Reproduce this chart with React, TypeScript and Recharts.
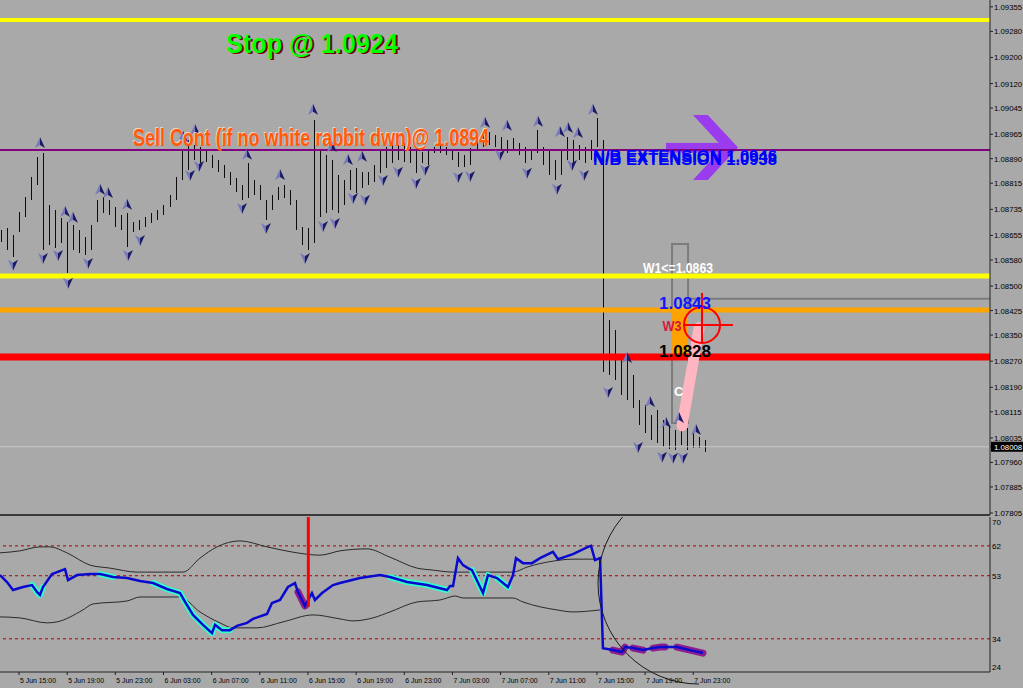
import React from 'react';
import {
  ComposedChart, Bar, Line, Scatter, XAxis, YAxis,
  ReferenceLine, ReferenceArea, ReferenceDot,
} from 'recharts';

// ---------- axes ----------
const X_MIN = 13.42; // hours since 5 Jun 00:00
const X_MAX = 95.65;
const P_MAX = 1.09376;
const P_MIN = 1.07799;
const CURRENT_PRICE = 1.08008;

const priceTicks = [1.09355, 1.0928, 1.092, 1.0912, 1.09045, 1.08965, 1.0889, 1.08815, 1.08735, 1.08655,
  1.0858, 1.085, 1.08425, 1.0835, 1.0827, 1.0819, 1.08115, 1.08035, CURRENT_PRICE, 1.0796, 1.07885, 1.07805];

const xTickHours = [15, 19, 23, 27, 31, 35, 39, 43, 47, 51, 55, 59, 63, 67, 71];
const xTickLabels = ['5 Jun 15:00', '5 Jun 19:00', '5 Jun 23:00', '6 Jun 03:00', '6 Jun 07:00', '6 Jun 11:00',
  '6 Jun 15:00', '6 Jun 19:00', '6 Jun 23:00', '7 Jun 03:00', '7 Jun 07:00', '7 Jun 11:00', '7 Jun 15:00',
  '7 Jun 19:00', '7 Jun 23:00'];

const indTicks = [70, 62, 53, 34, 24];

// ---------- price bars (30 min) ----------
const barHigh = [
  1.08672, 1.08678, 1.08657, 1.08727, 1.08773, 1.08834, 1.08896, 1.08908, 1.08749, 1.08733,
  1.08709, 1.08696, 1.08687, 1.08672, 1.08650, 1.08687, 1.08764, 1.08773, 1.08764, 1.08742,
  1.08718, 1.08724, 1.08696, 1.08703, 1.08712, 1.08724, 1.08733, 1.08749, 1.08779, 1.08834,
  1.08917, 1.08948, 1.08938, 1.08926, 1.08917, 1.08902, 1.08886, 1.08871, 1.08850, 1.08831,
  1.08810, 1.08877, 1.08825, 1.08810, 1.08764, 1.08779, 1.08804, 1.08810, 1.08795, 1.08764,
  1.08681, 1.08678, 1.09009, 1.08917, 1.08902, 1.08886, 1.08840, 1.08825, 1.08856, 1.08862,
  1.08850, 1.08850, 1.08871, 1.08917, 1.08926, 1.08938, 1.08932, 1.08938, 1.08926, 1.08917,
  1.08911, 1.08917, 1.08926, 1.08929, 1.08926, 1.08917, 1.08911, 1.08902, 1.08923, 1.08969,
  1.08978, 1.08972, 1.08963, 1.08957, 1.08948, 1.08954, 1.08938, 1.08926, 1.08917, 1.08978,
  1.08926, 1.08917, 1.08886, 1.08917, 1.08957, 1.08948, 1.08932, 1.08926, 1.08948, 1.09015,
  1.08948, 1.08396, 1.08366, 1.08283, 1.08274, 1.08228, 1.08151, 1.08136, 1.08105, 1.08121,
  1.08090, 1.08075, 1.08059, 1.08075, 1.08066, 1.08053, 1.08038, 1.08029,
];
const barLow = [
  1.08635, 1.08611, 1.08589, 1.08666, 1.08712, 1.08764, 1.08810, 1.08611, 1.08626, 1.08617,
  1.08632, 1.08540, 1.08611, 1.08601, 1.08595, 1.08611, 1.08696, 1.08724, 1.08718, 1.08681,
  1.08672, 1.08620, 1.08666, 1.08672, 1.08681, 1.08693, 1.08703, 1.08718, 1.08742, 1.08764,
  1.08825, 1.08856, 1.08886, 1.08877, 1.08880, 1.08862, 1.08850, 1.08831, 1.08810, 1.08788,
  1.08764, 1.08770, 1.08779, 1.08764, 1.08703, 1.08733, 1.08764, 1.08770, 1.08749, 1.08672,
  1.08626, 1.08611, 1.08632, 1.08712, 1.08724, 1.08733, 1.08724, 1.08749, 1.08795, 1.08785,
  1.08801, 1.08810, 1.08819, 1.08847, 1.08862, 1.08877, 1.08886, 1.08880, 1.08877, 1.08847,
  1.08877, 1.08871, 1.08908, 1.08908, 1.08902, 1.08886, 1.08865, 1.08865, 1.08871, 1.08917,
  1.08926, 1.08932, 1.08926, 1.08917, 1.08908, 1.08917, 1.08902, 1.08877, 1.08886, 1.08908,
  1.08871, 1.08840, 1.08825, 1.08840, 1.08886, 1.08877, 1.08886, 1.08877, 1.08886, 1.08926,
  1.08237, 1.08228, 1.08213, 1.08167, 1.08151, 1.08127, 1.08075, 1.08050, 1.08029, 1.08020,
  1.08007, 1.08001, 1.07998, 1.08013, 1.07998, 1.08004, 1.08004, 1.07992,
];
const BAR_START = 13.5;
const BAR_STEP = 0.5;

// ---------- fractals ----------
const upFractalTime = [16.74, 18.82, 19.48, 21.73, 22.39, 23.97, 28.62, 29.62, 33.94, 36.68, 39.42, 40.98, 42.32,
  43.49, 53.70, 55.53, 58.11, 59.93, 60.60, 61.43, 62.67, 65.50, 67.41, 68.74, 69.82, 71.23];
const upFractalPrice = [1.08938, 1.08727, 1.08709, 1.08795, 1.08785, 1.08749, 1.08957, 1.08978, 1.08902, 1.08840,
  1.09040, 1.08926, 1.08886, 1.08896, 1.09000, 1.08991, 1.09003, 1.08972, 1.08984, 1.08969, 1.09040, 1.08280,
  1.08145, 1.08081, 1.08096, 1.08059];
const downFractalTime = [14.50, 16.99, 18.24, 19.07, 20.73, 24.05, 25.05, 29.20, 29.95, 33.52, 35.51, 38.75, 40.25,
  41.24, 42.74, 43.74, 45.23, 46.48, 47.97, 48.72, 51.46, 52.46, 54.95, 57.19, 59.68, 60.93, 61.93, 63.92, 66.41,
  68.41, 69.32, 70.15];
const downFractalPrice = [1.08565, 1.08586, 1.08595, 1.08510, 1.08571, 1.08595, 1.08641, 1.08840, 1.08868, 1.08739,
  1.08678, 1.08586, 1.08684, 1.08693, 1.08770, 1.08764, 1.08825, 1.08850, 1.08816, 1.08856, 1.08834, 1.08837,
  1.08902, 1.08847, 1.08798, 1.08871, 1.08840, 1.08176, 1.08007, 1.07977, 1.07974, 1.07974];

// ---------- horizontal levels ----------
const levelPrices = [1.09315, 1.08917, 1.08531, 1.08427, 1.08283];
const levelColors = ['#FFFF00', '#800080', '#FFFF00', '#FFA500', '#FF0000'];
const levelWidths = [4, 2, 5, 5, 7];

// ---------- drawing objects ----------
const boxTime = [69.24, 70.57];
const boxW1 = [1.08427, 1.08629];
const boxW3 = [1.08280, 1.08427];
const boxC = [1.08081, 1.08280];
const w1Line = { p: 1.08461, from: 70.57, to: 95.65 };
const pinkLeg = { h1: 70.07, p1: 1.08072, h2: 71.48, p2: 1.08372 };
const target = { h: 71.73, p: 1.08381, hFrom: 70.15, hTo: 74.30, pFrom: 1.08326, pTo: 1.08479 };
const arrowBox = { x1: 68.74, x2: 74.72, y1: 1.08825, y2: 1.09024 };

const annotations = [
  { id: 'stop', text: 'Stop @ 1.0924', h: 32.19, p: 1.09214 },
  { id: 'sell', text: 'Sell Cont (if no white rabbit dwn)@ 1.0894', h: 24.47, p: 1.08929 },
  { id: 'nb1', text: 'N/B EXTENSION 1.0946', h: 62.67, p: 1.08880 },
  { id: 'nb2', text: 'N/B EXTENSION 1.0938', h: 62.67, p: 1.08871 },
  { id: 'w1', text: 'W1<=1.0863', h: 66.83, p: 1.08540 },
  { id: 'lvl1', text: '1.0843', h: 68.16, p: 1.08430 },
  { id: 'w3', text: 'W3', h: 68.45, p: 1.08363 },
  { id: 'lvl2', text: '1.0828', h: 68.16, p: 1.08283 },
  { id: 'c', text: 'C', h: 69.40, p: 1.08164 },
];

// ---------- indicator ----------
const rsiTime = [13.42, 14.0, 14.5, 15.33, 16.08, 16.49, 16.74, 16.99, 17.74, 18.82, 19.07, 19.82, 20.9, 21.73,
  22.81, 23.97, 25.05, 26.13, 27.29, 28.37, 28.79, 29.45, 30.28, 31.03, 31.28, 31.86, 32.52, 33.1, 33.94, 34.43,
  35.6, 36.01, 36.68, 37.34, 37.92, 38.17, 38.75, 39.33, 39.58, 40.17, 41.08, 41.66, 43.32, 44.98, 45.81, 47.23,
  48.89, 50.55, 50.8, 51.05, 51.46, 51.88, 52.29, 52.62, 53.54, 53.95, 54.7, 55.61, 56.03, 56.28, 56.86, 57.61,
  58.27, 59.35, 59.77, 61.01, 62.26, 62.51, 62.84, 63.26, 63.5, 64.33, 65.08, 65.33, 66.0, 66.83, 67.66, 68.24,
  68.65, 69.65, 70.73, 71.81];
const rsiValue = [53.2, 51.1, 48.7, 49.6, 50.2, 48.1, 47.2, 49.6, 53.5, 55.0, 51.7, 53.2, 53.5, 53.5, 52.6, 52.3,
  51.4, 50.8, 49.0, 47.8, 45.1, 41.2, 38.2, 35.7, 38.2, 36.6, 36.6, 37.9, 38.8, 40.0, 41.5, 44.8, 45.7, 49.6, 50.8,
  48.1, 43.9, 47.8, 45.7, 47.8, 50.2, 50.8, 52.3, 53.2, 52.6, 51.1, 50.2, 48.7, 49.9, 49.9, 58.3, 56.2, 55.3, 54.7,
  47.8, 53.2, 52.3, 49.6, 53.2, 58.3, 56.8, 56.8, 58.3, 60.2, 58.0, 59.5, 61.7, 62.0, 57.7, 58.3, 31.2, 30.6, 30.0,
  31.5, 31.2, 30.6, 31.2, 31.5, 31.5, 31.5, 30.6, 29.7];
const upperTime = [13.42, 15.08, 16.74, 17.57, 18.98, 20.9, 22.56, 24.8, 28.62, 30.03, 31.44, 33.35, 35.6, 37.76,
  40.0, 41.66, 43.9, 45.81, 48.06, 49.38, 51.05, 56.03, 57.19, 59.35, 61.01, 63.26];
const upperValue = [59.9, 60.5, 61.7, 61.7, 59.9, 56.2, 55.3, 54.1, 54.1, 58.3, 61.7, 63.5, 61.7, 60.1, 59.2, 60.5,
  61.1, 58.6, 55.3, 54.7, 54.1, 54.1, 55.6, 57.4, 58.0, 58.0];
const lowerTime = [13.42, 15.08, 17.32, 18.15, 20.31, 21.14, 23.97, 25.05, 28.37, 30.03, 31.69, 32.77, 34.77, 36.93,
  39.42, 41.66, 42.74, 44.4, 45.81, 48.06, 49.97, 50.55, 51.21, 51.88, 56.03, 56.86, 59.68, 61.01, 63.26];
const lowerValue = [40.6, 40.3, 38.8, 39.1, 42.7, 44.5, 45.4, 46.6, 46.6, 42.1, 38.8, 37.3, 37.3, 39.1, 41.2, 40.0,
  39.4, 40.3, 42.1, 45.1, 45.7, 46.3, 46.9, 46.3, 46.3, 45.1, 42.7, 42.1, 42.7];
const cyanRanges = [[16.0, 17.0], [21.7, 23.0], [26.1, 32.6], [45.8, 50.6], [52.6, 54.0], [54.7, 55.7]];
const purpleRanges = [[38.0, 39.0], [64.3, 65.4], [65.9, 66.9], [67.5, 68.7], [69.6, 71.9]];
const indLevels = [62, 53, 34];
const spike = { h: 39.03, from: 70.7, to: 43.6 };
const bigArc = { h: 71.48, v: 50.8 };

// ---------- derived tables ----------
const bars = barHigh.map((high, i) => ({ h: BAR_START + BAR_STEP * i, high, low: barLow[i] }));
const upFractals = upFractalTime.map((h, i) => ({ h, p: upFractalPrice[i] }));
const downFractals = downFractalTime.map((h, i) => ({ h, p: downFractalPrice[i] }));
const rsi = rsiTime.map((h, i) => ({ h, v: rsiValue[i] }));
const upperBand = upperTime.map((h, i) => ({ h, v: upperValue[i] }));
const lowerBand = lowerTime.map((h, i) => ({ h, v: lowerValue[i] }));
const segOf = (r: number[]) => rsi.filter((d) => d.h >= r[0] && d.h <= r[1]);

// ---------- styles ----------
const NARROW = "'Liberation Sans Narrow', 'Arial Narrow', 'Liberation Sans', sans-serif";
const ARIAL = "'Liberation Sans', Arial, sans-serif";
const BG = '#A9A9A9';

const annotationStyles: Record<string, any> = {
  stop: { fill: '#00FF00', shadow: '#7A0000', dx: 2, dy: 1.5, size: 28, len: 172, font: NARROW },
  sell: { fill: '#FF5A0A', shadow: '#F2D6C8', dx: -1, dy: -1, size: 23, len: 356, font: NARROW },
  nb1: { fill: '#0000FF', size: 17, len: 184, font: ARIAL },
  nb2: { fill: '#0000FF', size: 17, len: 184, font: ARIAL },
  w1: { fill: '#FFFFFF', size: 15, len: 70, font: ARIAL },
  lvl1: { fill: '#1414FF', size: 16, len: 52, font: ARIAL },
  w3: { fill: '#D8163A', size: 15, len: 19, font: ARIAL },
  lvl2: { fill: '#000000', size: 16, len: 52, font: ARIAL },
  c: { fill: '#FFFFFF', size: 13, font: ARIAL },
};

const makeLabel = (text: string, st: any) => (props: any) => {
  const { cx, cy } = props;
  const common: any = {
    fontFamily: st.font, fontSize: st.size, fontWeight: 700,
    textLength: st.len, lengthAdjust: st.len ? 'spacingAndGlyphs' : undefined,
  };
  return (
    <g>
      {st.shadow && <text x={cx + st.dx} y={cy + st.dy} fill={st.shadow} {...common}>{text}</text>}
      <text x={cx} y={cy} fill={st.fill} {...common}>{text}</text>
    </g>
  );
};

const PriceBar = (props: any) => {
  const { x, y, width, height } = props;
  if (x == null || y == null) return null;
  const cx = Math.round(x + width / 2) + 0.5;
  const top = Math.round(y);
  const bottom = Math.round(y + height);
  return <line x1={cx} x2={cx} y1={top} y2={Math.max(bottom, top + 1)} stroke="#0c0c0c" strokeWidth={1} />;
};

const UpFractal = (props: any) => {
  const { cx, cy } = props;
  return (
    <g>
      <path d={`M${cx},${cy - 6}L${cx - 5},${cy + 5}L${cx},${cy + 2}Z`} fill="#7878BC" />
      <path d={`M${cx},${cy - 6}L${cx + 5},${cy + 5}L${cx},${cy + 2}Z`} fill="#1A1A66" />
    </g>
  );
};
const DownFractal = (props: any) => {
  const { cx, cy } = props;
  return (
    <g>
      <path d={`M${cx},${cy + 6}L${cx - 5},${cy - 5}L${cx},${cy - 2}Z`} fill="#7878BC" />
      <path d={`M${cx},${cy + 6}L${cx + 5},${cy - 5}L${cx},${cy - 2}Z`} fill="#1A1A66" />
    </g>
  );
};

const ArrowShape = (props: any) => {
  const { x, y, width: w, height: ht } = props;
  const X = (f: number) => x + f * w;
  const Y = (f: number) => y + f * ht;
  const chevron = [[0.375, 0], [0.58, 0], [1, 0.5], [0.58, 1], [0.375, 1], [0.79, 0.5]]
    .map(([a, b]) => `${X(a)},${Y(b)}`).join(' ');
  return (
    <g fill="#9A3CEE">
      <rect x={X(0)} y={Y(0.43)} width={X(0.8) - X(0)} height={Y(0.58) - Y(0.43)} />
      <polygon points={chevron} />
    </g>
  );
};

const LeftArc = (props: any) => {
  const { cx, cy, r } = props;
  return <path d={`M${cx},${cy - r}A${r},${r} 0 0 0 ${cx},${cy + r}`} fill="none" stroke="#1a1a1a" strokeWidth={1} />;
};

const PriceTick = (props: any) => {
  const { x, y, payload } = props;
  const v = payload.value;
  const label = Number(v).toFixed(5);
  if (Math.abs(v - CURRENT_PRICE) < 1e-7) {
    return (
      <g>
        <rect x={x - 4} y={y - 5} width={32} height={10} fill="#000" />
        <text x={x - 1} y={y + 3} fill="#FFF" fontSize={7.8} fontFamily={ARIAL}>{label}</text>
      </g>
    );
  }
  return <text x={x - 1} y={y + 3} fill="#000" fontSize={7.8} fontFamily={ARIAL}>{label}</text>;
};

const IndTick = (props: any) => {
  const { x, y, payload } = props;
  const v = payload.value;
  const shift = v === 70 ? 6 : v === 24 ? -2 : 3;
  return <text x={x} y={y + shift} fill="#000" fontSize={8} fontFamily={ARIAL}>{v}</text>;
};

const TimeTick = (props: any) => {
  const { x, y, payload } = props;
  const idx = xTickHours.indexOf(payload.value);
  return (
    <text x={x + 1} y={y + 6} fill="#000" fontSize={8} fontFamily={ARIAL} textLength={36} lengthAdjust="spacingAndGlyphs">
      {xTickLabels[idx]}
    </text>
  );
};

export default function App() {
  return (
    <div style={{ position: 'absolute', left: 0, top: 0, width: 1023, height: 688, background: BG, overflow: 'hidden' }}>
      <div style={{ position: 'absolute', left: 0, top: 0 }}>
        <ComposedChart width={1023} height={517} data={bars} margin={{ top: 0, right: 0, bottom: 0, left: 0 }}>
          <XAxis type="number" dataKey="h" domain={[X_MIN, X_MAX]} allowDataOverflow tick={false} tickLine={false}
            height={2} axisLine={{ stroke: '#3a3a3a', strokeWidth: 2 }} />
          <YAxis orientation="right" type="number" domain={[P_MIN, P_MAX]} allowDataOverflow ticks={priceTicks}
            interval={0} width={33} tickSize={3} tickMargin={2} tick={<PriceTick />}
            axisLine={{ stroke: '#222' }} tickLine={{ stroke: '#222' }} />
          {levelPrices.map((p, i) => (
            <ReferenceLine key={`lv${i}`} y={p} stroke={levelColors[i]} strokeWidth={levelWidths[i]} />
          ))}
          <ReferenceLine y={CURRENT_PRICE} stroke="#C6C6C6" strokeWidth={1} />
          <Bar dataKey={(d: any) => [d.low, d.high]} barSize={1} fill="#0c0c0c" shape={PriceBar} isAnimationActive={false} />
          <Scatter data={upFractals} dataKey="p" shape={UpFractal} isAnimationActive={false} />
          <Scatter data={downFractals} dataKey="p" shape={DownFractal} isAnimationActive={false} />

          <ReferenceArea x1={arrowBox.x1} x2={arrowBox.x2} y1={arrowBox.y1} y2={arrowBox.y2} shape={ArrowShape} ifOverflow="visible" />

          <ReferenceArea x1={boxTime[0]} x2={boxTime[1]} y1={boxW3[0]} y2={boxW3[1]} fill="#FFA200" fillOpacity={1} stroke="none" />
          <ReferenceArea x1={boxTime[0]} x2={boxTime[1]} y1={boxW1[0]} y2={boxW1[1]} fill="none" fillOpacity={0} stroke="#7C7C7C" strokeWidth={2} />
          <ReferenceArea x1={boxTime[0]} x2={boxTime[1]} y1={boxC[0]} y2={boxC[1]} fill="none" fillOpacity={0} stroke="#7C7C7C" strokeWidth={2} />
          <ReferenceLine segment={[{ x: w1Line.from, y: w1Line.p }, { x: w1Line.to, y: w1Line.p }]} stroke="#7C7C7C" strokeWidth={2} />

          <ReferenceLine segment={[{ x: pinkLeg.h1, y: pinkLeg.p1 }, { x: pinkLeg.h2, y: pinkLeg.p2 }]}
            stroke="#FFB6C1" strokeWidth={11} strokeLinecap="round" />

          <ReferenceDot x={target.h} y={target.p} r={18} fill="none" stroke="#FF0000" strokeWidth={2} />
          <ReferenceLine segment={[{ x: target.hFrom, y: target.p }, { x: target.hTo, y: target.p }]} stroke="#FF0000" strokeWidth={2} />
          <ReferenceLine segment={[{ x: target.h, y: target.pFrom }, { x: target.h, y: target.pTo }]} stroke="#FF0000" strokeWidth={2} />

          {annotations.map((a) => (
            <ReferenceDot key={a.id} x={a.h} y={a.p} r={0} ifOverflow="visible"
              shape={makeLabel(a.text, annotationStyles[a.id])} />
          ))}
        </ComposedChart>
      </div>

      <div style={{ position: 'absolute', left: 0, top: 517 }}>
        <ComposedChart width={1023} height={171} margin={{ top: 0, right: 0, bottom: 0, left: 0 }}>
          <XAxis type="number" dataKey="h" domain={[X_MIN, X_MAX]} allowDataOverflow ticks={xTickHours} interval={0}
            tickSize={3} tickMargin={2} height={16} tick={<TimeTick />}
            axisLine={{ stroke: '#222' }} tickLine={{ stroke: '#222' }} />
          <YAxis orientation="right" type="number" domain={[24, 70.7]} allowDataOverflow ticks={indTicks} interval={0}
            width={33} tickSize={0} tickMargin={2} tick={<IndTick />} axisLine={{ stroke: '#222' }} />
          {indLevels.map((v) => (
            <ReferenceLine key={`il${v}`} y={v} stroke="#A80000" strokeDasharray="3 3" strokeWidth={1} />
          ))}
          <Line data={upperBand} dataKey="v" type="monotone" stroke="#2a2a2a" strokeWidth={1} dot={false} isAnimationActive={false} />
          <Line data={lowerBand} dataKey="v" type="monotone" stroke="#2a2a2a" strokeWidth={1} dot={false} isAnimationActive={false} />
          {cyanRanges.map((r, i) => (
            <Line key={`cy${i}`} data={segOf(r)} dataKey="v" stroke="#33FFCC" strokeWidth={6} strokeLinecap="round"
              strokeLinejoin="round" dot={false} isAnimationActive={false} />
          ))}
          {purpleRanges.map((r, i) => (
            <Line key={`pu${i}`} data={segOf(r)} dataKey="v" stroke="#8E1E8E" strokeWidth={7} strokeLinecap="round"
              strokeLinejoin="round" dot={false} isAnimationActive={false} />
          ))}
          <Line data={rsi} dataKey="v" stroke="#0A0ACF" strokeWidth={2.5} dot={false} isAnimationActive={false} />
          <ReferenceLine segment={[{ x: spike.h, y: spike.from }, { x: spike.h, y: spike.to }]} stroke="#FF0000" strokeWidth={3} />
          <ReferenceDot x={bigArc.h} y={bigArc.v} r={101} shape={LeftArc} ifOverflow="hidden" />
        </ComposedChart>
      </div>
    </div>
  );
}
